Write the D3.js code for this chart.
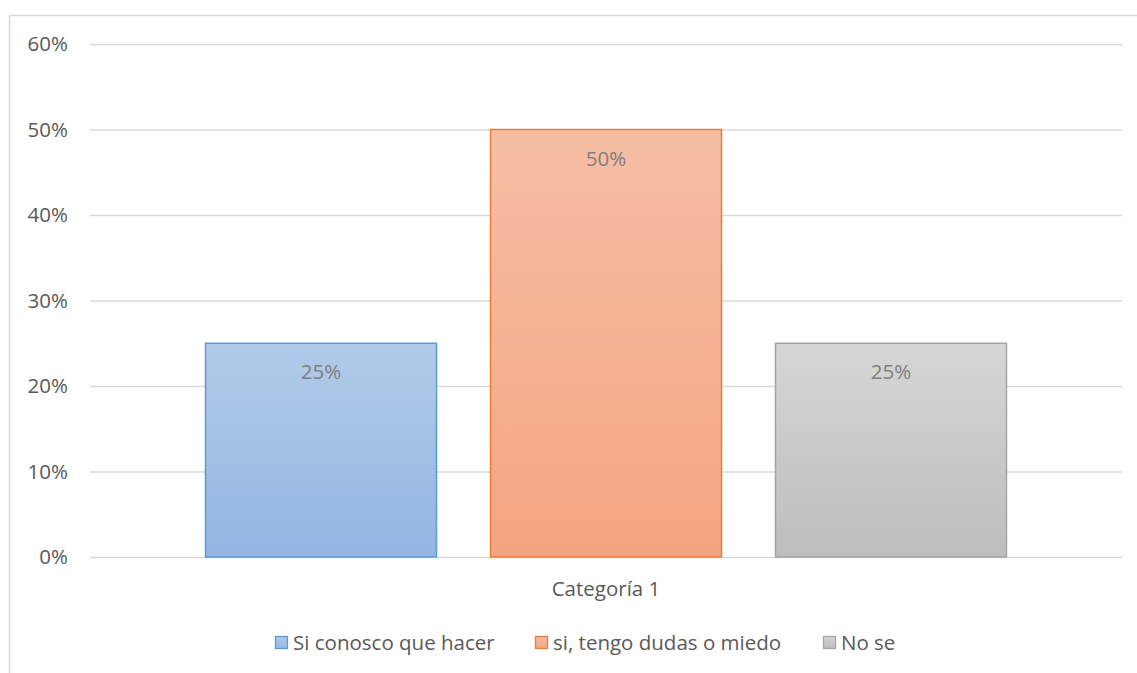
<!DOCTYPE html>
<html><head><meta charset="utf-8">
<script src="https://cdn.jsdelivr.net/npm/d3@7"></script>
<style>
html,body{margin:0;padding:0;background:#fff;}
svg{display:block;font-family:"Open Sans","Noto Sans",sans-serif;}
</style></head>
<body>
<svg id="chart" width="1137" height="673"></svg>
<script>
const categories = ["Categoría 1"];
const seriesNames = ["Si conosco que hacer", "si, tengo dudas o miedo", "No se"];
const seriesValues = [0.25, 0.50, 0.25];
const yTicks = [0, 0.1, 0.2, 0.3, 0.4, 0.5, 0.6];
const fillTop = ["#b1cbe9", "#f6bea6", "#d6d6d6"];
const fillBottom = ["#92b6e2", "#f5a47f", "#bdbdbd"];
const strokes = ["#5b9bd5", "#ed7d31", "#a5a5a5"];

const FS = 20.5;
const svg = d3.select("#chart");
const plot = {left: 90, right: 1122, top: 44, bottom: 557};

// chart area border
svg.append("rect").attr("x", 9.5).attr("y", 15.5).attr("width", 1140).attr("height", 700)
  .attr("fill", "none").attr("stroke", "#d9d9d9").attr("stroke-width", 1.5);

const y = d3.scaleLinear().domain([0, 0.6]).range([plot.bottom, plot.top]);
const x0 = d3.scaleBand().domain(categories).range([plot.left, plot.right]).paddingInner(0).paddingOuter(0.1442);
const x1 = d3.scaleBand().domain(seriesNames).range([0, x0.bandwidth()]).paddingInner(0.1895).paddingOuter(0);

const defs = svg.append("defs");
seriesNames.forEach((s, i) => {
  const g = defs.append("linearGradient").attr("id", "grad" + i).attr("x1", 0).attr("y1", 0).attr("x2", 0).attr("y2", 1);
  g.append("stop").attr("offset", "0%").attr("stop-color", fillTop[i]);
  g.append("stop").attr("offset", "100%").attr("stop-color", fillBottom[i]);
});

// gridlines + tick labels
const yAxis = d3.axisLeft(y).tickValues(yTicks).tickSize(-(plot.right - plot.left)).tickFormat(d3.format(".0%")).tickPadding(22);
const ga = svg.append("g").attr("transform", `translate(${plot.left},0)`).call(yAxis);
ga.select(".domain").remove();
ga.selectAll(".tick line").attr("stroke", "#d9d9d9").attr("stroke-width", 1.3);
ga.selectAll(".tick text").attr("fill", "#595959").attr("font-size", FS).attr("font-family", "'Open Sans',sans-serif");

// bars
const gc = svg.append("g").attr("transform", `translate(${x0(categories[0])},0)`);
gc.selectAll("rect.bar").data(seriesValues).join("rect").attr("class", "bar")
  .attr("x", (d, i) => x1(seriesNames[i]))
  .attr("y", d => y(d))
  .attr("width", x1.bandwidth())
  .attr("height", d => y(0) - y(d))
  .attr("fill", (d, i) => `url(#grad${i})`)
  .attr("stroke", (d, i) => strokes[i]).attr("stroke-width", 1.5);

gc.selectAll("text.lbl").data(seriesValues).join("text").attr("class", "lbl")
  .attr("x", (d, i) => x1(seriesNames[i]) + x1.bandwidth() / 2)
  .attr("y", d => y(d) + 36)
  .attr("text-anchor", "middle").attr("fill", "#7f7f7f").attr("font-size", FS)
  .text(d => d3.format(".0%")(d));

// category axis label
svg.append("text").attr("x", x0(categories[0]) + x0.bandwidth() / 2).attr("y", 596)
  .attr("text-anchor", "middle").attr("fill", "#595959").attr("font-size", FS).text(categories[0]);

// legend
const legendX = [275, 535, 823];
const lg = svg.append("g");
seriesNames.forEach((s, i) => {
  lg.append("rect").attr("x", legendX[i] + 0.5).attr("y", 636.5).attr("width", 12).attr("height", 12)
    .attr("fill", `url(#grad${i})`).attr("stroke", strokes[i]).attr("stroke-width", 1.3);
  lg.append("text").attr("x", legendX[i] + 18).attr("y", 649.5).attr("fill", "#595959").attr("font-size", FS).text(s);
});
</script>
</body></html>
